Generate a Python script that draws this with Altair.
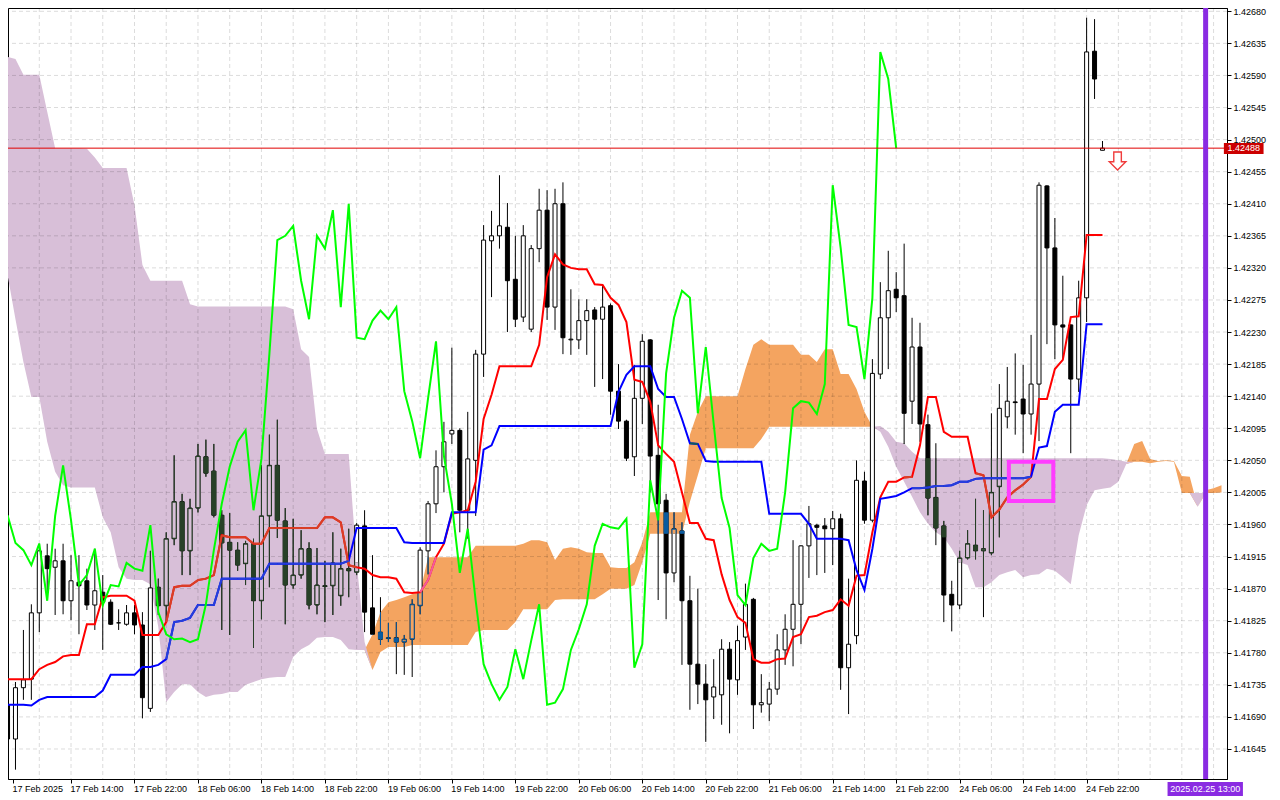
import json
import altair as alt
import pandas as pd

# ---------------- data (H1 bars) ----------------
open_ = [
    1.41707, 1.41659, 1.41731, 1.41743, 1.41836, 1.41916, 1.41900, 1.41909, 1.41853, 1.41879,
    1.41881, 1.41847, 1.41865, 1.41851, 1.41822, 1.41820, 1.41836, 1.41819, 1.41702, 1.41872,
    1.41846, 1.41940, 1.41992, 1.41923, 1.41983, 1.42055, 1.42035, 1.41973, 1.41935, 1.41924,
    1.41905, 1.41933, 1.41853, 1.41972, 1.42043, 1.41965, 1.41875, 1.41889, 1.41926, 1.41847,
    1.41874, 1.41874, 1.41860, 1.41898, 1.41893, 1.41958, 1.41843, 1.41809, 1.41801, 1.41801,
    1.41795, 1.41799, 1.41846, 1.41923, 1.41989, 1.42041, 1.42087, 1.42092, 1.41980, 1.42050,
    1.42199, 1.42358, 1.42365, 1.42377, 1.42304, 1.42251, 1.42234, 1.42347, 1.42401, 1.42265,
    1.42410, 1.42219, 1.42219, 1.42246, 1.42261, 1.42248, 1.42267, 1.42147, 1.42105, 1.42055,
    1.42137, 1.42219, 1.42057, 1.41994, 1.41892, 1.41951, 1.41853, 1.41764, 1.41736, 1.41718,
    1.41721, 1.41785, 1.41742, 1.41802, 1.41855, 1.41707, 1.41708, 1.41729, 1.41784, 1.41813,
    1.41848, 1.41930, 1.41959, 1.41958, 1.41954, 1.41968, 1.41759, 1.41804, 1.42021, 1.41966,
    1.42171, 1.42250, 1.42290, 1.42281, 1.42133, 1.42209, 1.42100, 1.41998, 1.41958, 1.41862,
    1.41847, 1.41913, 1.41931, 1.41923, 1.41920, 1.42013, 1.42111, 1.42132, 1.42136, 1.42115,
    1.42157, 1.42435, 1.42348, 1.42240, 1.42240, 1.42164, 1.42278, 1.42624, 1.42485,
]
high = [
    1.41711, 1.41739, 1.41812, 1.41848, 1.41933, 1.41933, 1.41926, 1.41933, 1.41917, 1.41917,
    1.41898, 1.41926, 1.41889, 1.41855, 1.41841, 1.41847, 1.41847, 1.41837, 1.41923, 1.41884,
    1.41949, 1.42057, 1.42003, 1.41996, 1.42073, 1.42079, 1.42073, 1.41980, 1.41976, 1.41935,
    1.41937, 1.41940, 1.42043, 1.42086, 1.42107, 1.41983, 1.41968, 1.41952, 1.41935, 1.41927,
    1.41909, 1.41949, 1.41926, 1.41954, 1.41962, 1.41980, 1.41917, 1.41858, 1.41822, 1.41823,
    1.41805, 1.41855, 1.41928, 1.41993, 1.42064, 1.42104, 1.42208, 1.42095, 1.42118, 1.42205,
    1.42380, 1.42400, 1.42450, 1.42411, 1.42365, 1.42380, 1.42352, 1.42431, 1.42429, 1.42431,
    1.42440, 1.42290, 1.42276, 1.42276, 1.42265, 1.42296, 1.42270, 1.42185, 1.42107, 1.42184,
    1.42227, 1.42220, 1.42128, 1.42003, 1.41977, 1.41963, 1.41888, 1.41870, 1.41764, 1.41771,
    1.41799, 1.41795, 1.41818, 1.41877, 1.41857, 1.41750, 1.41739, 1.41806, 1.41834, 1.41938,
    1.41931, 1.41986, 1.41961, 1.41969, 1.41979, 1.41975, 1.41884, 1.42050, 1.42034, 1.42192,
    1.42300, 1.42344, 1.42314, 1.42354, 1.42250, 1.42243, 1.42114, 1.42074, 1.41965, 1.41881,
    1.41923, 1.41952, 1.41996, 1.41980, 1.42116, 1.42157, 1.42181, 1.42200, 1.42184, 1.42226,
    1.42440, 1.42436, 1.42390, 1.42309, 1.42241, 1.42302, 1.42671, 1.42669, 1.42498,
]
low = [
    1.41648, 1.41616, 1.41714, 1.41714, 1.41809, 1.41854, 1.41833, 1.41834, 1.41826, 1.41806,
    1.41840, 1.41812, 1.41784, 1.41819, 1.41812, 1.41818, 1.41806, 1.41688, 1.41697, 1.41833,
    1.41823, 1.41931, 1.41889, 1.41889, 1.41977, 1.42027, 1.41970, 1.41812, 1.41805, 1.41895,
    1.41875, 1.41787, 1.41827, 1.41872, 1.41941, 1.41820, 1.41870, 1.41884, 1.41841, 1.41834,
    1.41823, 1.41833, 1.41846, 1.41858, 1.41889, 1.41809, 1.41805, 1.41791, 1.41795, 1.41750,
    1.41749, 1.41746, 1.41834, 1.41890, 1.41976, 1.42005, 1.42073, 1.41949, 1.41940, 1.41972,
    1.42167, 1.42279, 1.42347, 1.42230, 1.42237, 1.42244, 1.42230, 1.42328, 1.42247, 1.42233,
    1.42199, 1.42198, 1.42206, 1.42198, 1.42153, 1.42164, 1.42114, 1.42094, 1.42049, 1.42028,
    1.42101, 1.42005, 1.41854, 1.41827, 1.41879, 1.41763, 1.41700, 1.41708, 1.41655, 1.41687,
    1.41679, 1.41667, 1.41721, 1.41784, 1.41673, 1.41696, 1.41684, 1.41721, 1.41763, 1.41761,
    1.41792, 1.41885, 1.41889, 1.41892, 1.41903, 1.41728, 1.41694, 1.41792, 1.41961, 1.41963,
    1.42164, 1.42178, 1.42258, 1.42073, 1.42101, 1.42076, 1.41973, 1.41931, 1.41823, 1.41810,
    1.41841, 1.41911, 1.41911, 1.41830, 1.41917, 1.41942, 1.42095, 1.42086, 1.42060, 1.42086,
    1.42077, 1.42213, 1.42192, 1.42192, 1.42060, 1.42146, 1.42244, 1.42557, 1.42485,
]
close = [
    1.41659, 1.41731, 1.41742, 1.41836, 1.41923, 1.41898, 1.41909, 1.41853, 1.41881, 1.41874,
    1.41847, 1.41867, 1.41851, 1.41820, 1.41822, 1.41836, 1.41819, 1.41717, 1.41871, 1.41846,
    1.41940, 1.41992, 1.41923, 1.41983, 1.42056, 1.42032, 1.41973, 1.41934, 1.41924, 1.41903,
    1.41933, 1.41853, 1.41972, 1.42043, 1.41966, 1.41875, 1.41889, 1.41926, 1.41847, 1.41875,
    1.41873, 1.41906, 1.41898, 1.41895, 1.41959, 1.41837, 1.41806, 1.41799, 1.41800, 1.41795,
    1.41799, 1.41848, 1.41924, 1.41989, 1.42041, 1.42076, 1.42092, 1.41980, 1.42052, 1.42199,
    1.42359, 1.42365, 1.42379, 1.42302, 1.42248, 1.42365, 1.42347, 1.42401, 1.42265, 1.42410,
    1.42222, 1.42220, 1.42246, 1.42260, 1.42248, 1.42265, 1.42147, 1.42105, 1.42053, 1.42137,
    1.42217, 1.42056, 1.41989, 1.41892, 1.41954, 1.41853, 1.41764, 1.41736, 1.41714, 1.41732,
    1.41785, 1.41743, 1.41797, 1.41848, 1.41707, 1.41710, 1.41729, 1.41784, 1.41813, 1.41848,
    1.41930, 1.41961, 1.41956, 1.41954, 1.41968, 1.41759, 1.41792, 1.42022, 1.41966, 1.42172,
    1.42250, 1.42288, 1.42278, 1.42116, 1.42209, 1.42101, 1.41997, 1.41955, 1.41861, 1.41847,
    1.41913, 1.41933, 1.41923, 1.41926, 1.42005, 1.42123, 1.42133, 1.42131, 1.42115, 1.42157,
    1.42436, 1.42348, 1.42240, 1.42237, 1.42164, 1.42278, 1.42623, 1.42585, 1.42488,
]
tenkan = [
    1.41743, 1.41743, 1.41743, 1.41743, 1.41757, 1.41763, 1.41767, 1.41775, 1.41777, 1.41777,
    1.41820, 1.41820, 1.41858, 1.41860, 1.41860, 1.41860, 1.41853, 1.41805, 1.41805, 1.41805,
    1.41823, 1.41872, 1.41874, 1.41874, 1.41882, 1.41884, 1.41889, 1.41945, 1.41942, 1.41942,
    1.41942, 1.41933, 1.41933, 1.41955, 1.41955, 1.41955, 1.41955, 1.41955, 1.41955, 1.41955,
    1.41970, 1.41970, 1.41963, 1.41903, 1.41900, 1.41898, 1.41889, 1.41886, 1.41886, 1.41884,
    1.41865, 1.41864, 1.41865, 1.41882, 1.41914, 1.41933, 1.41975, 1.41977, 1.41980, 1.42020,
    1.42108, 1.42142, 1.42182, 1.42182, 1.42182, 1.42182, 1.42182, 1.42212, 1.42307, 1.42339,
    1.42325, 1.42320, 1.42318, 1.42318, 1.42297, 1.42296, 1.42278, 1.42268, 1.42244, 1.42163,
    1.42160, 1.42132, 1.42071, 1.42059, 1.42048, 1.42005, 1.41962, 1.41962, 1.41940, 1.41938,
    1.41890, 1.41854, 1.41830, 1.41822, 1.41771, 1.41766, 1.41766, 1.41771, 1.41772, 1.41802,
    1.41806, 1.41830, 1.41832, 1.41837, 1.41840, 1.41855, 1.41846, 1.41888, 1.41889, 1.41949,
    1.41998, 1.42020, 1.42020, 1.42026, 1.42027, 1.42071, 1.42139, 1.42139, 1.42090, 1.42083,
    1.42083, 1.42083, 1.42032, 1.42029, 1.41970, 1.41981, 1.41998, 1.42008, 1.42016, 1.42027,
    1.42136, 1.42136, 1.42178, 1.42191, 1.42251, 1.42252, 1.42366, 1.42366, 1.42366,
]
kijun = [
    1.41707, 1.41707, 1.41707, 1.41706, 1.41714, 1.41718, 1.41718, 1.41718, 1.41718, 1.41718,
    1.41718, 1.41718, 1.41727, 1.41749, 1.41749, 1.41749, 1.41749, 1.41760, 1.41760, 1.41763,
    1.41771, 1.41823, 1.41825, 1.41829, 1.41847, 1.41847, 1.41847, 1.41884, 1.41884, 1.41884,
    1.41884, 1.41884, 1.41884, 1.41905, 1.41905, 1.41905, 1.41905, 1.41905, 1.41905, 1.41905,
    1.41905, 1.41905, 1.41905, 1.41909, 1.41955, 1.41955, 1.41955, 1.41955, 1.41955, 1.41955,
    1.41935, 1.41934, 1.41934, 1.41934, 1.41934, 1.41934, 1.41977, 1.41977, 1.41977, 1.41977,
    1.42065, 1.42071, 1.42098, 1.42098, 1.42098, 1.42098, 1.42098, 1.42098, 1.42098, 1.42098,
    1.42098, 1.42098, 1.42098, 1.42098, 1.42098, 1.42098, 1.42098, 1.42146, 1.42170, 1.42182,
    1.42182, 1.42182, 1.42150, 1.42139, 1.42139, 1.42108, 1.42074, 1.42073, 1.42049, 1.42048,
    1.42048, 1.42048, 1.42048, 1.42048, 1.42048, 1.42048, 1.41975, 1.41975, 1.41975, 1.41975,
    1.41975, 1.41961, 1.41940, 1.41940, 1.41940, 1.41940, 1.41938, 1.41896, 1.41868, 1.41926,
    1.41996, 1.41998, 1.42000, 1.42005, 1.42011, 1.42011, 1.42012, 1.42014, 1.42014, 1.42015,
    1.42020, 1.42020, 1.42024, 1.42025, 1.42025, 1.42025, 1.42025, 1.42025, 1.42025, 1.42027,
    1.42068, 1.42070, 1.42118, 1.42128, 1.42128, 1.42128, 1.42241, 1.42241, 1.42241,
]
# Senkou spans as plotted (already shifted 26 bars forward), bars 0..153
span_a = [
    1.42310, 1.42248, 1.42188, 1.42139, 1.42139, 1.42076, 1.42034, 1.42015, 1.42012, 1.42012,
    1.42012, 1.42012, 1.41970, 1.41949, 1.41900, 1.41884, 1.41882, 1.41882, 1.41876, 1.41816,
    1.41711, 1.41725, 1.41736, 1.41736, 1.41725, 1.41718, 1.41721, 1.41722, 1.41725, 1.41725,
    1.41735, 1.41739, 1.41743, 1.41745, 1.41746, 1.41746, 1.41774, 1.41785, 1.41791, 1.41801,
    1.41802, 1.41802, 1.41798, 1.41785, 1.41784, 1.41784, 1.41806, 1.41837, 1.41851, 1.41854,
    1.41858, 1.41862, 1.41865, 1.41914, 1.41914, 1.41914, 1.41914, 1.41914, 1.41914, 1.41930,
    1.41930, 1.41930, 1.41930, 1.41930, 1.41930, 1.41933, 1.41938, 1.41938, 1.41935, 1.41910,
    1.41926, 1.41928, 1.41926, 1.41921, 1.41920, 1.41920, 1.41900, 1.41899, 1.41899, 1.41907,
    1.41935, 1.41977, 1.41977, 1.41977, 1.41977, 1.41977, 1.42086, 1.42118, 1.42140, 1.42140,
    1.42140, 1.42140, 1.42140, 1.42178, 1.42212, 1.42220, 1.42212, 1.42212, 1.42212, 1.42212,
    1.42198, 1.42198, 1.42188, 1.42206, 1.42206, 1.42171, 1.42171, 1.42150, 1.42118, 1.42097,
    1.42090, 1.42069, 1.42041, 1.42020, 1.41999, 1.41977, 1.41961, 1.41949, 1.41942, 1.41926,
    1.41907, 1.41903, 1.41872, 1.41872, 1.41879, 1.41889, 1.41893, 1.41896, 1.41886, 1.41889,
    1.41890, 1.41898, 1.41895, 1.41886, 1.41876, 1.41945, 1.41987, 1.42008, 1.42010, 1.42012,
    1.42020, 1.42045, 1.42073, 1.42077, 1.42052, 1.42049, 1.42050, 1.42049, 1.42028, 1.42027,
    1.41985, 1.42008, 1.42011, 1.42015,
]
span_b = [
    1.42616, 1.42613, 1.42591, 1.42591, 1.42591, 1.42539, 1.42488, 1.42488, 1.42488, 1.42488,
    1.42487, 1.42475, 1.42460, 1.42460, 1.42460, 1.42460, 1.42408, 1.42324, 1.42302, 1.42302,
    1.42302, 1.42302, 1.42302, 1.42269, 1.42266, 1.42266, 1.42266, 1.42266, 1.42266, 1.42266,
    1.42266, 1.42266, 1.42266, 1.42266, 1.42266, 1.42266, 1.42262, 1.42206, 1.42195, 1.42094,
    1.42059, 1.42059, 1.42059, 1.42059, 1.41907, 1.41795, 1.41756, 1.41781, 1.41788, 1.41788,
    1.41788, 1.41791, 1.41791, 1.41791, 1.41791, 1.41791, 1.41791, 1.41791, 1.41791, 1.41809,
    1.41812, 1.41812, 1.41812, 1.41812, 1.41823, 1.41841, 1.41841, 1.41841, 1.41841, 1.41854,
    1.41855, 1.41855, 1.41855, 1.41855, 1.41855, 1.41862, 1.41870, 1.41870, 1.41870, 1.41875,
    1.41907, 1.41947, 1.41947, 1.41947, 1.41947, 1.41947, 1.41992, 1.42029, 1.42067, 1.42067,
    1.42067, 1.42067, 1.42067, 1.42067, 1.42067, 1.42080, 1.42097, 1.42097, 1.42097, 1.42097,
    1.42097, 1.42097, 1.42097, 1.42097, 1.42097, 1.42097, 1.42097, 1.42097, 1.42097, 1.42097,
    1.42098, 1.42090, 1.42076, 1.42074, 1.42062, 1.42053, 1.42053, 1.42053, 1.42053, 1.42053,
    1.42053, 1.42053, 1.42053, 1.42053, 1.42053, 1.42053, 1.42053, 1.42053, 1.42053, 1.42053,
    1.42053, 1.42053, 1.42053, 1.42053, 1.42053, 1.42053, 1.42053, 1.42053, 1.42053, 1.42052,
    1.42050, 1.42048, 1.42048, 1.42048, 1.42046, 1.42048, 1.42049, 1.42048, 1.42004, 1.42004,
    1.42004, 1.42004, 1.42004, 1.42005,
]
x_labels = [
    "17 Feb 2025", "17 Feb 14:00", "17 Feb 22:00", "18 Feb 06:00", "18 Feb 14:00",
    "18 Feb 22:00", "19 Feb 06:00", "19 Feb 14:00", "19 Feb 22:00", "20 Feb 06:00",
    "20 Feb 14:00", "20 Feb 22:00", "21 Feb 06:00", "21 Feb 14:00", "21 Feb 22:00",
    "24 Feb 06:00", "24 Feb 14:00", "24 Feb 22:00",
]
y_ticks = [
    1.41645, 1.41690, 1.41735, 1.41780, 1.41825, 1.41870, 1.41915, 1.41960,
    1.42005, 1.42050, 1.42095, 1.42140, 1.42185, 1.42230, 1.42275, 1.42320,
    1.42365, 1.42410, 1.42455, 1.42500, 1.42545, 1.42590, 1.42635, 1.42680,
]
last_price = 1.42488
now_bar = 151            # bar of 2025.02.25 13:00
now_label = "2025.02.25 13:00"
chikou_shift = 26

# colours of the terminal
CLOUD_FILL = {"purple": "#D8BFD8", "orange": "#F4A460"}
CLOUD_INK = {"purple": "#274027", "orange": "#0B5B9F"}   # black seen through the cloud
RED_IN = {"purple": "#D84027", "orange": "#F45B9F"}      # red line seen through the cloud
BLUE_IN = {"purple": "#2740D8", "orange": "#0B5B60"}     # blue line seen through the cloud

# ---------------- scales ----------------
XMIN, XMAX = 0.6875, 153.0625
YMIN, YMAX = 1.416029, 1.4268463
PX = (YMAX - YMIN) / 771.0      # one pixel in price units
FONT = "Liberation Sans"

# ---------------- tables ----------------
n = len(close)
candles = pd.DataFrame({"bar": list(range(n)), "open": open_, "high": high,
                        "low": low, "close": close})
candles["dir"] = ["up" if c >= o else "down" for o, c in zip(open_, close)]

lines = pd.DataFrame({"bar": list(range(len(tenkan))), "tenkan": tenkan,
                      "kijun": kijun[:len(tenkan)]})

cloud = pd.DataFrame({"bar": list(range(len(span_a))), "a": span_a, "b": span_b})
cloud["lo"] = cloud[["a", "b"]].min(axis=1)

chikou = pd.DataFrame({"bar": list(range(n - chikou_shift)),
                       "chikou": close[chikou_shift:]})


def cloud_at(i):
    a, b = span_a[i], span_b[i]
    return min(a, b), max(a, b), ("orange" if a > b else "purple")


# parts of each candle that lie inside the cloud (drawn in the cloud's XOR tint)
wick_in, body_in, inner_in = [], [], []
for i in range(n):
    c_lo, c_hi, kind = cloud_at(i)
    lo, hi = max(low[i], c_lo), min(high[i], c_hi)
    if hi > lo:
        wick_in.append({"bar": i, "lo": lo, "hi": hi, "col": CLOUD_INK[kind]})
    b_lo, b_hi = min(open_[i], close[i]), max(open_[i], close[i])
    if b_hi - b_lo < PX:
        mid = (b_lo + b_hi) / 2
        b_lo, b_hi = mid - PX / 2, mid + PX / 2
    lo, hi = max(b_lo, c_lo), min(b_hi, c_hi)
    if hi > lo:
        body_in.append({"bar": i, "lo": lo, "hi": hi, "col": CLOUD_INK[kind]})
        if close[i] > open_[i]:
            ilo = lo + PX if lo <= b_lo + 1e-9 else lo
            ihi = hi - PX if hi >= b_hi - 1e-9 else hi
            if ihi > ilo:
                inner_in.append({"bar": i, "lo": ilo, "hi": ihi, "col": CLOUD_FILL[kind]})
wick_in = pd.DataFrame(wick_in, columns=["bar", "lo", "hi", "col"])
body_in = pd.DataFrame(body_in, columns=["bar", "lo", "hi", "col"])
inner_in = pd.DataFrame(inner_in, columns=["bar", "lo", "hi", "col"])


# line segments lying inside the cloud
def segments_inside(values, tag, pal):
    rows = []
    for i in range(len(values) - 1):
        lo0, hi0, k0 = cloud_at(i)
        lo1, hi1, k1 = cloud_at(i + 1)
        if k0 == k1 and lo0 <= values[i] <= hi0 and lo1 <= values[i + 1] <= hi1:
            seg = f"{tag}{i}"
            rows.append({"bar": i, "v": values[i], "seg": seg, "col": pal[k0]})
            rows.append({"bar": i + 1, "v": values[i + 1], "seg": seg, "col": pal[k0]})
    return pd.DataFrame(rows, columns=["bar", "v", "seg", "col"])


tenkan_in = segments_inside(tenkan, "t", RED_IN)
kijun_in = segments_inside(kijun, "k", BLUE_IN)

# ---------------- axes ----------------
xs = alt.Scale(domain=[XMIN, XMAX], nice=False, zero=False)
ys = alt.Scale(domain=[YMIN, YMAX], nice=False, zero=False)

x_tick_vals = [XMIN] + [8 * k for k in range(1, len(x_labels))]
x_axis = alt.Axis(
    values=x_tick_vals,
    labelExpr=json.dumps(x_labels) + "[round(datum.value / 8)]",
    labelAlign="left", labelBaseline="top", labelFlush=False, labelOverlap=False,
    tickSize=4, labelPadding=1, labelOffset=-1, grid=False, domainColor="black",
    tickColor="black", labelColor="black", labelFont=FONT, labelFontSize=9, title=None,
)
y_axis = alt.Axis(
    orient="right", values=y_ticks, format=".5f", tickSize=4, labelPadding=2,
    grid=False, domainColor="black", tickColor="black", labelColor="black",
    labelFont=FONT, labelFontSize=9, labelBaseline="middle", labelFlush=False,
    labelOverlap=False, title=None,
)


def X(field):
    return alt.X(field, type="quantitative", scale=xs, axis=x_axis, title=None)


def Y(field):
    return alt.Y(field, type="quantitative", scale=ys, axis=y_axis, title=None)


LIT = alt.Color("col:N", scale=None, legend=None)   # literal colour from the table

# ---------------- layers ----------------
cloud_up = alt.Chart(cloud).mark_area(color=CLOUD_FILL["orange"], opacity=1, clip=True).encode(
    x=X("bar"), y=Y("a"), y2=alt.Y2("lo"))
cloud_dn = alt.Chart(cloud).mark_area(color=CLOUD_FILL["purple"], opacity=1, clip=True).encode(
    x=X("bar"), y=Y("b"), y2=alt.Y2("lo"))

hgrid = alt.Chart(pd.DataFrame({"p": y_ticks})).mark_rule(
    color="black", opacity=0.14, strokeDash=[4, 3], strokeWidth=1, clip=True
).encode(y=Y("p"))
vgrid = alt.Chart(pd.DataFrame({"bar": list(range(4, 153, 4))})).mark_rule(
    color="black", opacity=0.14, strokeDash=[4, 3], strokeWidth=1, clip=True
).encode(x=X("bar"))

wicks = alt.Chart(candles).mark_rule(color="black", strokeWidth=1, clip=True).encode(
    x=X("bar"), y=Y("low"), y2=alt.Y2("high"))
bodies = alt.Chart(candles).mark_bar(size=4, stroke="black", strokeWidth=1, clip=True).encode(
    x=X("bar"), y=Y("open"), y2=alt.Y2("close"),
    fill=alt.Fill("dir:N", scale=alt.Scale(domain=["up", "down"], range=["white", "black"]),
                  legend=None))

wicks_t = alt.Chart(wick_in).mark_rule(strokeWidth=1, clip=True).encode(
    x=X("bar"), y=Y("lo"), y2=alt.Y2("hi"), color=LIT)
bodies_t = alt.Chart(body_in).mark_bar(size=5, clip=True).encode(
    x=X("bar"), y=Y("lo"), y2=alt.Y2("hi"), color=LIT)
inner_t = alt.Chart(inner_in).mark_bar(size=3, clip=True).encode(
    x=X("bar"), y=Y("lo"), y2=alt.Y2("hi"), color=LIT)

tenkan_l = alt.Chart(lines).mark_line(color="#ff0000", strokeWidth=2, clip=True).encode(
    x=X("bar"), y=Y("tenkan"))
kijun_l = alt.Chart(lines).mark_line(color="#0000ff", strokeWidth=2, clip=True).encode(
    x=X("bar"), y=Y("kijun"))
tenkan_t = alt.Chart(tenkan_in).mark_line(strokeWidth=2, clip=True).encode(
    x=X("bar"), y=Y("v"), detail="seg:N", color=LIT)
kijun_t = alt.Chart(kijun_in).mark_line(strokeWidth=2, clip=True).encode(
    x=X("bar"), y=Y("v"), detail="seg:N", color=LIT)
chikou_l = alt.Chart(chikou).mark_line(color="#00ff00", strokeWidth=2, clip=True).encode(
    x=X("bar"), y=Y("chikou"))

price_line = alt.Chart(pd.DataFrame({"p": [last_price]})).mark_rule(
    color="#e00000", strokeWidth=1, clip=True).encode(y=Y("p"))

box = alt.Chart(pd.DataFrame({"x0": [126.2], "x1": [131.8], "y0": [1.41993], "y1": [1.42048]})
                ).mark_rect(fill="transparent", stroke="#ff3cff", strokeWidth=4, clip=True).encode(
    x=X("x0"), x2=alt.X2("x1"), y=Y("y0"), y2=alt.Y2("y1"))

arrow_path = "M-0.42,-1 L0.42,-1 L0.42,0.08 L0.92,0.08 L0,1 L-0.92,0.08 L-0.42,0.08 Z"
arrow = alt.Chart(pd.DataFrame({"bar": [139.9], "p": [1.42470]})).mark_point(
    shape=arrow_path, size=324, filled=True, fill="white", stroke="#f03c3c",
    strokeWidth=1.4, opacity=1, clip=True).encode(x=X("bar"), y=Y("p"))

now_line = alt.Chart(pd.DataFrame({"bar": [now_bar]})).mark_rule(
    color="#8a2be2", strokeWidth=5, clip=True).encode(x=X("bar"))

price_tag = alt.Chart(pd.DataFrame({"x0": [153.3], "x1": [158.3],
                                    "y0": [1.424952], "y1": [1.424798]})).mark_rect(
    color="#cc0000", clip=False).encode(x=X("x0"), x2=alt.X2("x1"), y=Y("y0"), y2=alt.Y2("y1"))
price_txt = alt.Chart(pd.DataFrame({"x": [155.8], "p": [last_price],
                                    "t": [f"{last_price:.5f}"]})).mark_text(
    color="white", font=FONT, fontSize=9, align="center", baseline="middle",
    clip=False).encode(x=X("x"), y=Y("p"), text="t:N")

date_tag = alt.Chart(pd.DataFrame({"x0": [146.2], "x1": [155.7],
                                   "y0": [1.415987], "y1": [1.415791]})).mark_rect(
    color="#8a2be2", clip=False).encode(x=X("x0"), x2=alt.X2("x1"), y=Y("y0"), y2=alt.Y2("y1"))
date_txt = alt.Chart(pd.DataFrame({"x": [150.95], "p": [1.415889], "t": [now_label]})).mark_text(
    color="white", font=FONT, fontSize=9, align="center", baseline="middle",
    clip=False).encode(x=X("x"), y=Y("p"), text="t:N")

chart = alt.layer(
    cloud_up, cloud_dn, hgrid, vgrid, wicks, bodies, wicks_t, bodies_t, inner_t,
    tenkan_l, kijun_l, tenkan_t, kijun_t, chikou_l, price_line, box, arrow, now_line,
    price_tag, price_txt, date_tag, date_txt,
).properties(
    width=1219, height=771, background="white",
    autosize=alt.AutoSizeParams(type="none"),
    padding={"left": 0, "top": 0, "right": 44, "bottom": 20},
).configure_view(
    stroke="black", strokeWidth=1,
)

chart.save("out.html", embed_options={"renderer": "svg", "actions": False})
